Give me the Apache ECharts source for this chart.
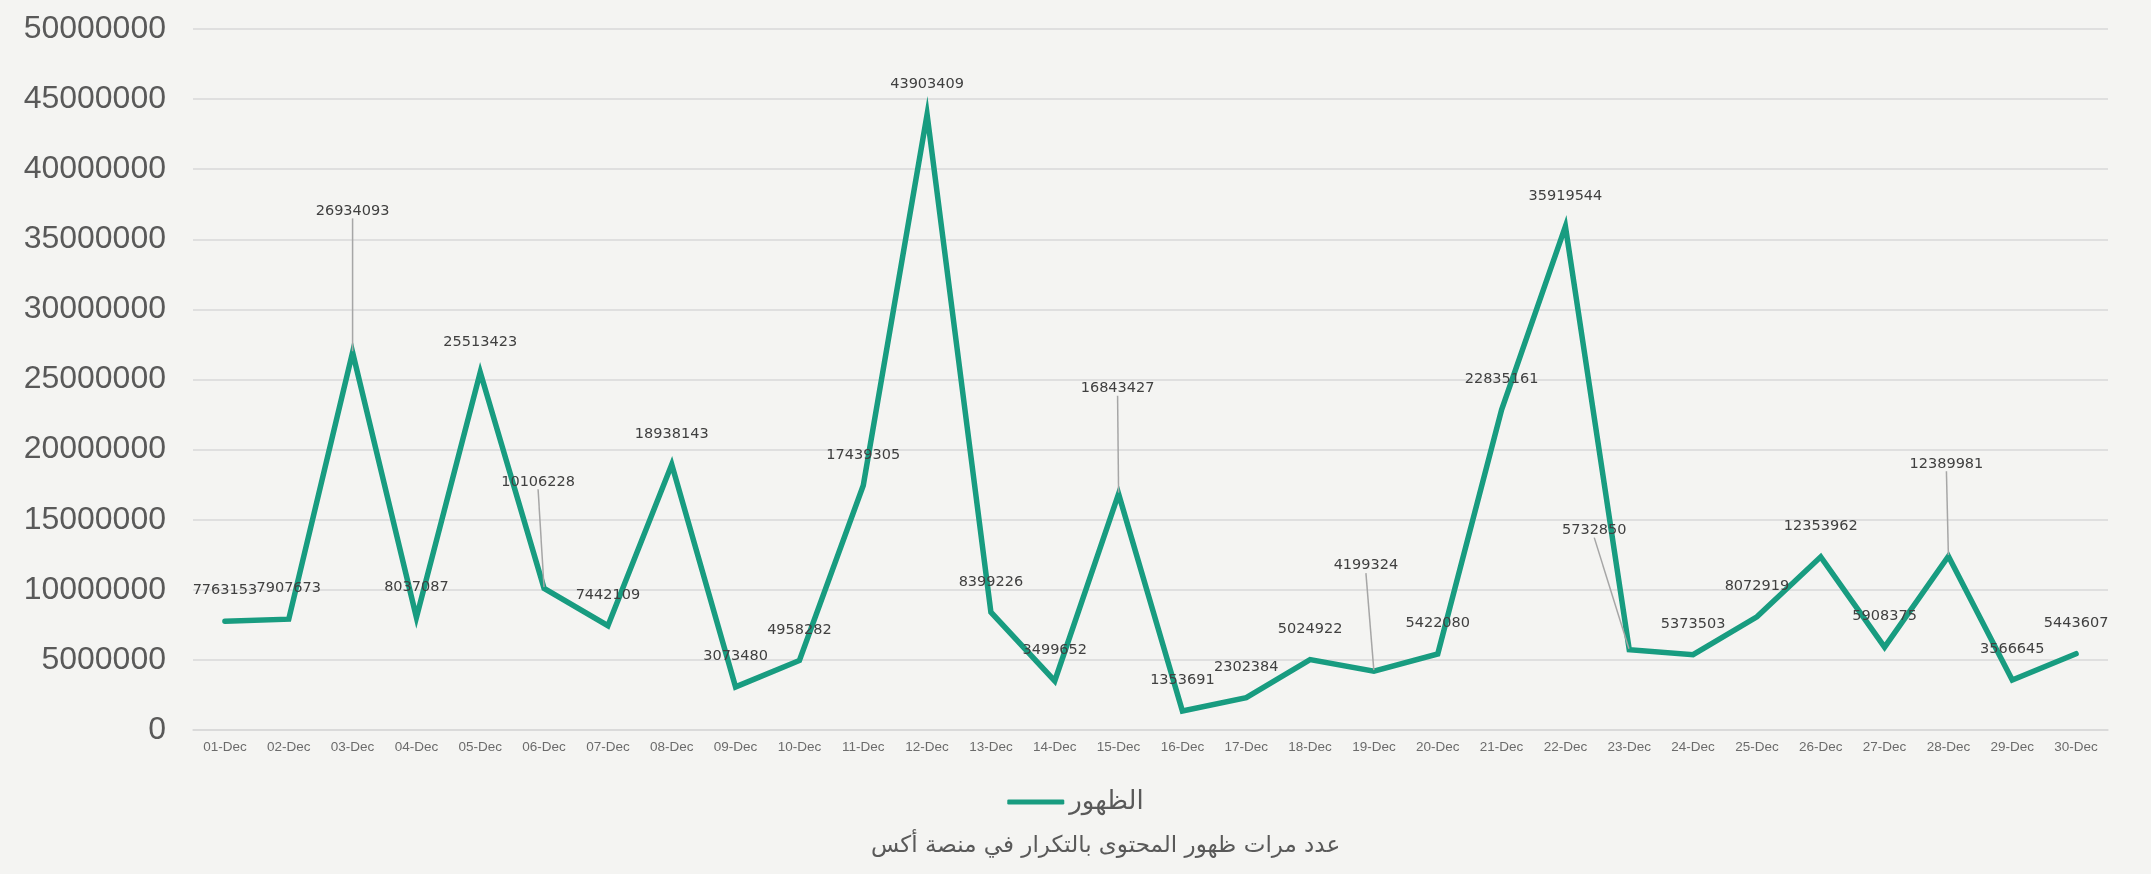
<!DOCTYPE html>
<html>
<head>
<meta charset="utf-8">
<title>عدد مرات ظهور المحتوى</title>
<script src="https://cdn.jsdelivr.net/npm/echarts@6/dist/echarts.min.js"></script>
<style>
  html, body { margin: 0; padding: 0; background: #f4f4f2; }
  #chart { width: 2151px; height: 874px; }
</style>
</head>
<body>
<div id="chart"></div>
<script>
// الأيام
const days = ['01-Dec', '02-Dec', '03-Dec', '04-Dec', '05-Dec', '06-Dec', '07-Dec', '08-Dec', '09-Dec', '10-Dec',
  '11-Dec', '12-Dec', '13-Dec', '14-Dec', '15-Dec', '16-Dec', '17-Dec', '18-Dec', '19-Dec', '20-Dec',
  '21-Dec', '22-Dec', '23-Dec', '24-Dec', '25-Dec', '26-Dec', '27-Dec', '28-Dec', '29-Dec', '30-Dec'];

// عدد مرات الظهور
const views = [7763153, 7907673, 26934093, 8037087, 25513423, 10106228, 7442109, 18938143, 3073480, 4958282,
  17439305, 43903409, 8399226, 3499652, 16843427, 1353691, 2302384, 5024922, 4199324, 5422080,
  22835161, 35919544, 5732850, 5373503, 8072919, 12353962, 5908375, 12389981, 3566645, 5443607];

const seriesName = 'الظهور';
const chartTitle = 'عدد مرات ظهور المحتوى بالتكرار في منصة أكس';

// labels that were dragged away in the original, with a leader line
const movedLabels = {
  2: [0, -111],
  5: [-6, -76],
  14: [-1, -75],
  18: [-8, -75],
  22: [-35, -89],
  27: [-2, -62]
};

const lineColor = '#189c80';

const chart = echarts.init(document.getElementById('chart'));

const option = {
  backgroundColor: '#f4f4f2',
  animation: false,
  title: {
    text: chartTitle,
    left: 866,
    top: 830,
    textStyle: {
      fontFamily: 'DejaVu Sans',
      fontSize: 23,
      fontWeight: 'normal',
      color: '#595959'
    }
  },
  legend: {
    left: 'center',
    top: 784,
    icon: 'roundRect',
    itemWidth: 57,
    itemHeight: 5,
    itemGap: 10,
    textStyle: {
      fontFamily: 'DejaVu Sans',
      fontSize: 26,
      color: '#595959'
    },
    data: [seriesName]
  },
  grid: {
    left: 193,
    right: 43,
    top: 29,
    bottom: 144
  },
  xAxis: {
    type: 'category',
    data: days,
    boundaryGap: true,
    axisLine: { show: true, lineStyle: { color: '#d9d9d9', width: 1.5 } },
    axisTick: { show: false },
    axisLabel: {
      interval: 0,
      margin: 10,
      fontFamily: 'Liberation Sans',
      fontSize: 13.5,
      color: '#6b6b6b'
    }
  },
  yAxis: {
    type: 'value',
    min: 0,
    max: 50000000,
    interval: 5000000,
    axisLine: { show: false },
    axisTick: { show: false },
    splitLine: { lineStyle: { color: '#d9d9d9', width: 1.5 } },
    axisLabel: {
      margin: 27,
      fontFamily: 'Liberation Sans',
      fontSize: 32,
      color: '#595959',
      formatter: function (v) { return String(v); }
    }
  },
  series: [
    {
      name: seriesName,
      type: 'line',
      data: views.map((v, i) => ({
        value: v,
        labelLine: { show: movedLabels[i] !== undefined }
      })),
      symbol: 'circle',
      symbolSize: 2,
      showSymbol: true,
      itemStyle: { color: lineColor },
      lineStyle: { color: lineColor, width: 5.5, join: 'miter', cap: 'round' },
      label: {
        show: true,
        position: 'top',
        distance: 22,
        fontFamily: 'DejaVu Sans',
        fontSize: 14.5,
        color: '#404040'
      },
      labelLine: {
        show: false,
        lineStyle: { color: '#a6a6a6', width: 1.5 }
      },
      labelLayout: function (params) {
        const m = movedLabels[params.dataIndex];
        if (!m) return {};
        return { dx: m[0], dy: m[1] };
      }
    }
  ]
};

chart.setOption(option);
</script>
</body>
</html>
